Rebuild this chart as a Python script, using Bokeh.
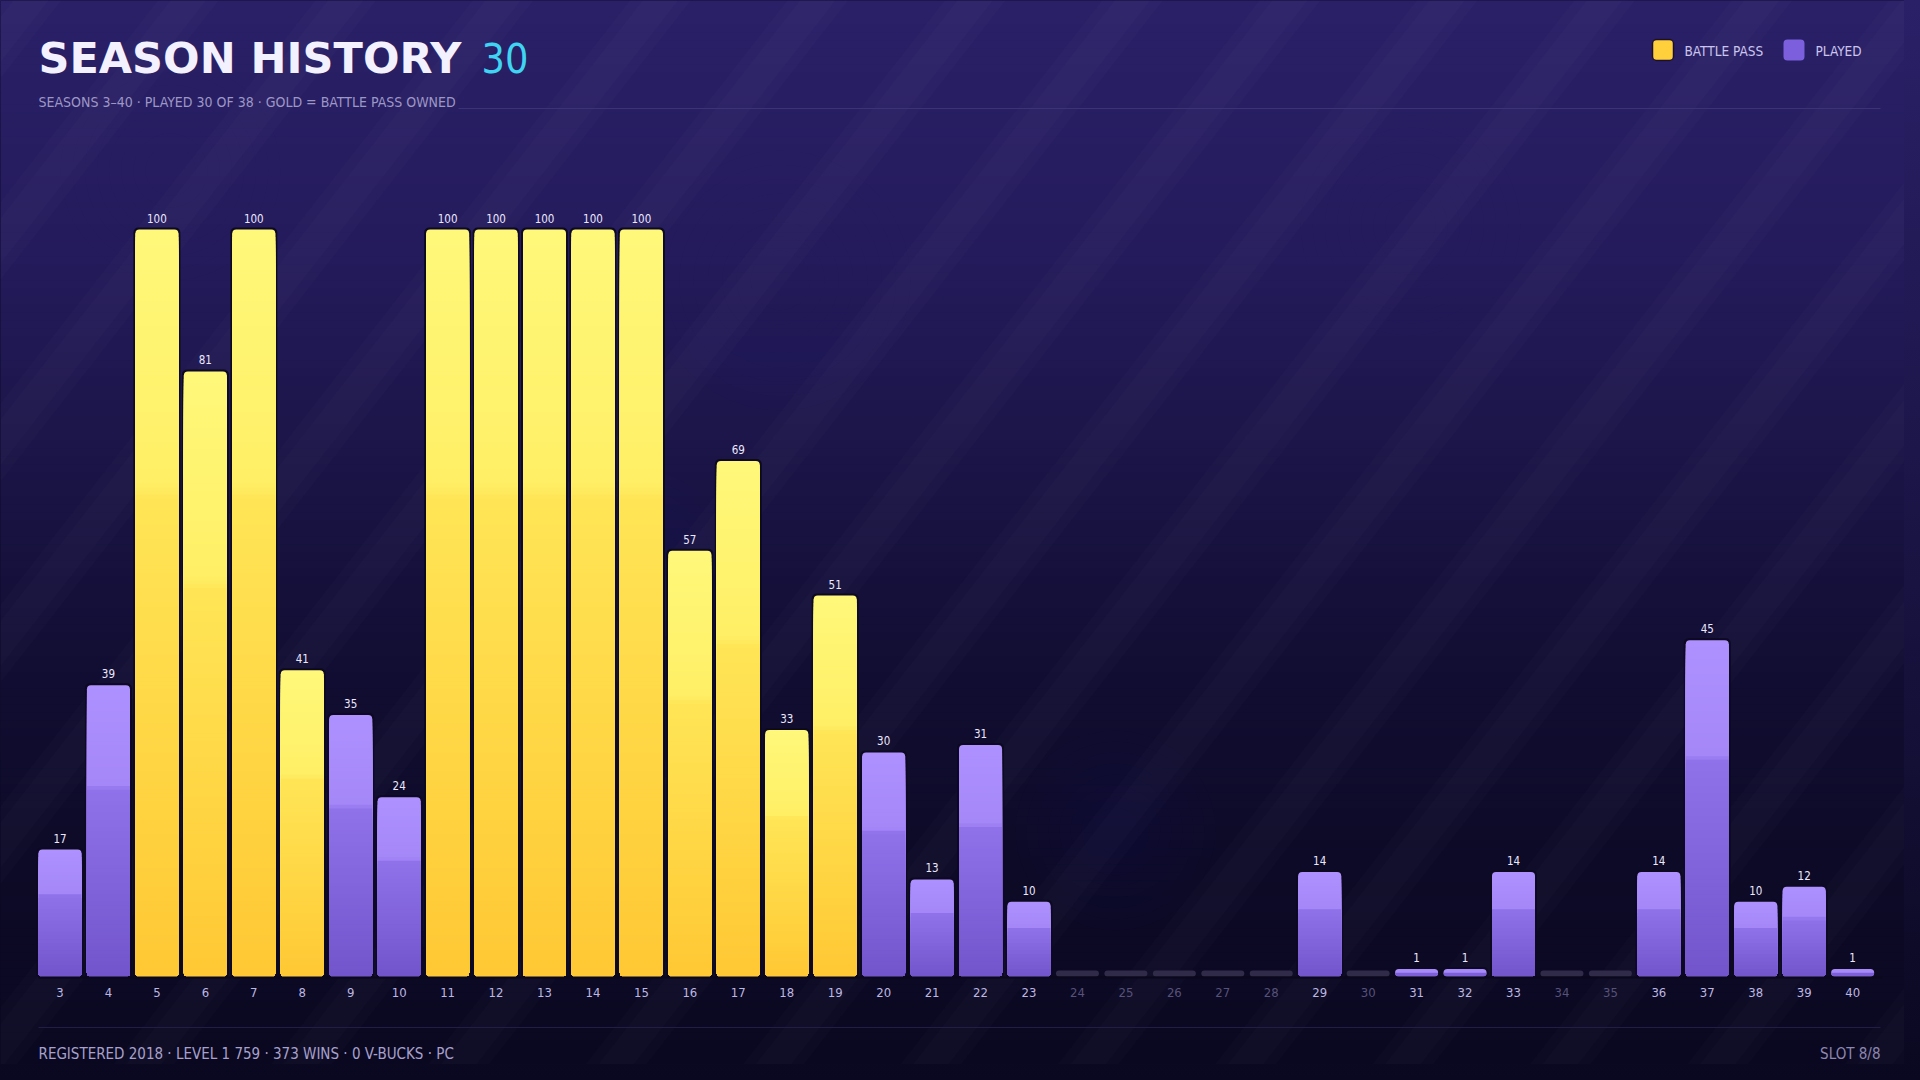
import math
from bokeh.plotting import figure
from bokeh.models import Range1d, ColumnDataSource, Label
from bokeh.core.properties import value
from bokeh.embed import file_html
from bokeh.resources import INLINE

# ---------------- data ----------------
seasons = list(range(3, 41))
levels = [17, 39, 100, 81, 100, 41, 35, 24, 100, 100, 100, 100, 100, 57, 69, 33,
          51, 30, 13, 31, 10, 0, 0, 0, 0, 0, 14, 0, 1, 1, 14, 0, 0, 14, 45, 10, 12, 1]
battle_pass_seasons = [5, 6, 7, 8, 11, 12, 13, 14, 15, 16, 17, 18, 19]

title_text = "SEASON HISTORY"
title_count = "30"
subtitle_text = "SEASONS 3\u201340  \u00b7  PLAYED 30 OF 38  \u00b7  GOLD = BATTLE PASS OWNED"
legend_labels = ["BATTLE PASS", "PLAYED"]
footer_left = "REGISTERED 2018  \u00b7  LEVEL 1 759  \u00b7  373 WINS  \u00b7  0 V-BUCKS  \u00b7  PC"
footer_right = "SLOT 8/8"

# ---------------- layout helpers (screen px -> data) ----------------
W, H = 1904, 1064
PXX = 48.45   # px per season
PXY = 7.47    # px per level unit


def X(sx):
    return 3 + (sx - 59.5) / PXX


def Y(sy):
    return (976 - sy) / PXY


COND = "Liberation Sans Narrow, DejaVu Sans Condensed"
HEAVY = "DejaVu Sans"


def hex2rgb(h):
    h = h.lstrip("#")
    return tuple(int(h[i:i + 2], 16) for i in (0, 2, 4))


def rgb2hex(c):
    return "#%02x%02x%02x" % tuple(int(round(v)) for v in c)


def interp(stops, t):
    t = max(0.0, min(1.0, t))
    for (t0, c0), (t1, c1) in zip(stops, stops[1:]):
        if t0 <= t <= t1:
            f = 0 if t1 == t0 else (t - t0) / (t1 - t0)
            a, b = hex2rgb(c0), hex2rgb(c1)
            return rgb2hex([a[i] + (b[i] - a[i]) * f for i in range(3)])
    return stops[-1][1]


p = figure(width=W, height=H, x_range=Range1d(X(0), X(W)), y_range=Range1d(Y(H), Y(0)),
           output_backend="svg", toolbar_location=None, x_axis_type=None, y_axis_type=None,
           min_border=0)
p.outline_line_color = None
p.background_fill_color = "#0a0820"
p.border_fill_color = "#0a0820"

# ---------------- background gradient ----------------
bg_stops = [(0.0, "#2a2068"), (0.23, "#241b5c"), (0.42, "#1b1548"), (0.6, "#120e34"),
            (0.8, "#0d0a27"), (1.0, "#0a0820")]
bl, br, bb, bt, bc = [], [], [], [], []
step = 8
for sy in range(0, 1080, step):
    bl.append(X(0)); br.append(X(1920))
    bt.append(Y(sy)); bb.append(Y(sy + step + 1))
    bc.append(interp(bg_stops, (sy + step / 2) / 1080))
p.quad(left=bl, right=br, bottom=bb, top=bt, fill_color=bc, line_color=None)

# soft glows
glows = [(780, 280, 260), (1410, 225, 220), (1115, 830, 200), (170, 170, 220), (640, 560, 180)]
for gx, gy, gd in glows:
    for k in range(8):
        p.scatter(x=[X(gx)], y=[Y(gy)], size=gd * (1 - k * 0.11), marker="circle",
                  fill_color="#6a58c8", fill_alpha=0.012, line_color=None)

# diagonal stripes (soft: wide faint band + narrower core)
theta = math.radians(52)
sn, cs = math.sin(theta), math.cos(theta)
maxc = 1920 * sn + 1080 * cs
period = 124
for bw_px, inset, alpha in ((48, 0, 0.014), (28, 10, 0.014)):
    sxs, sys_ = [], []
    c0 = -period
    while c0 < maxc + period:
        a0 = c0 + inset
        pts = []
        for cc, yy in ((a0, -50), (a0 + bw_px, -50), (a0 + bw_px, 1130), (a0, 1130)):
            xx = (cc - yy * cs) / sn
            pts.append((X(xx), Y(yy)))
        sxs.append([q[0] for q in pts]); sys_.append([q[1] for q in pts])
        c0 += period
    p.patches(sxs, sys_, fill_color="white", fill_alpha=alpha, line_color=None)

# ---------------- header ----------------
p.add_layout(Label(x=X(38), y=Y(57), text=title_text, text_font=HEAVY, text_font_style="bold",
                   text_font_size="43px", text_color="#f4f1ff", text_baseline="middle"))
p.add_layout(Label(x=X(481), y=Y(57), text=title_count, text_font=COND,
                   text_font_size="41px", text_color="#3fd5f2", text_baseline="middle"))
p.add_layout(Label(x=X(38), y=Y(101), text=subtitle_text, text_font=COND,
                   text_font_size="14px", text_color="#9d97c6", text_baseline="middle"))
p.segment(x0=[X(458)], y0=[Y(108)], x1=[X(1880)], y1=[Y(108)], line_color="#3b3374", line_width=1)

# legend
leg_colors = ["#ffcf3c", "#7b5fdc"]
leg_lines = ["#1c1030", None]
leg_x = [1652, 1783]
for lx, col, lc, lab in zip(leg_x, leg_colors, leg_lines, legend_labels):
    p.quad(left=[X(lx)], right=[X(lx + 21)], bottom=[Y(60)], top=[Y(39)], fill_color=col,
           line_color=lc, line_width=1.5, border_radius=4)
    p.add_layout(Label(x=X(lx + 32), y=Y(50), text=lab, text_font=COND, text_font_size="13.5px",
                       text_color="#cbc5ee", text_baseline="middle"))

# ---------------- bars ----------------
bar_w = 43 / PXX
gold_stops = [(0.0, "#fff87a"), (0.34, "#ffef66"), (0.36, "#ffe556"), (1.0, "#ffc834")]
purple_stops = [(0.0, "#ae91ff"), (0.34, "#a587f8"), (0.36, "#8f72ea"), (1.0, "#7254cb")]

shadow = dict(left=[], right=[], bottom=[], top=[])
full = dict(left=[], right=[], bottom=[], top=[], color=[])
layers = dict(left=[], right=[], bottom=[], top=[], color=[])
zero = dict(left=[], right=[], bottom=[], top=[])

for s, v in zip(seasons, levels):
    l, r = s - bar_w / 2, s + bar_w / 2
    if v <= 0:
        zero["left"].append(l); zero["right"].append(r)
        zero["bottom"].append(0); zero["top"].append(6 / PXY)
        continue
    stops = gold_stops if s in battle_pass_seasons else purple_stops
    shadow["left"].append(l - 2 / PXX); shadow["right"].append(r + 2 / PXX)
    shadow["bottom"].append(-2 / PXY); shadow["top"].append(v + 2 / PXY)
    n = max(1, int(math.ceil(v / 0.5)))
    h = v / n
    # full bar in top colour, then nested layers from the bottom, each shorter
    full["left"].append(l); full["right"].append(r)
    full["bottom"].append(0); full["top"].append(v)
    full["color"].append(interp(stops, 0.5 / n if n > 1 else 0.5))
    for i in range(n - 1, 0, -1):
        layers["left"].append(l); layers["right"].append(r)
        layers["bottom"].append(0); layers["top"].append(i * h)
        layers["color"].append(interp(stops, 1 - (i - 0.5) / n))

p.quad(source=ColumnDataSource(shadow), left="left", right="right", bottom="bottom", top="top",
       fill_color="#0c0920", line_color=None, border_radius=5)
p.quad(source=ColumnDataSource(zero), left="left", right="right", bottom="bottom", top="top",
       fill_color="#2f2b48", line_color=None, border_radius=3)
p.quad(source=ColumnDataSource(full), left="left", right="right", bottom="bottom", top="top",
       fill_color="color", line_color=None, border_radius=4)
p.quad(source=ColumnDataSource(layers), left="left", right="right", bottom="bottom", top="top",
       fill_color="color", line_color=None, border_radius=(0, 0, 4, 4))

# baseline
p.segment(x0=[X(38)], y0=[Y(977)], x1=[X(1882)], y1=[Y(977)], line_color="#0b081d", line_width=2)

# value labels
lab_x = [s for s, v in zip(seasons, levels) if v > 0]
lab_y = [v + 11.5 / PXY for v in levels if v > 0]
lab_t = [str(v) for v in levels if v > 0]
p.text(x=lab_x, y=lab_y, text=lab_t, text_font=value(COND), text_font_size="11.5px",
       text_color="#ece8ff", text_align="center", text_baseline="middle")

# season tick labels
tick_col = ["#bdb7e2" if v > 0 else "#57527a" for v in levels]
p.text(x=seasons, y=[Y(992)] * len(seasons), text=[str(s) for s in seasons],
       text_font=value(COND), text_font_size="13px", text_color=tick_col,
       text_align="center", text_baseline="middle")

# ---------------- footer ----------------
p.segment(x0=[X(38)], y0=[Y(1027)], x1=[X(1880)], y1=[Y(1027)], line_color="#221d44", line_width=1)
p.add_layout(Label(x=X(38), y=Y(1053), text=footer_left, text_font=COND, text_font_size="15px",
                   text_color="#a7a1cc", text_baseline="middle"))
p.add_layout(Label(x=X(1880), y=Y(1053), text=footer_right, text_font=COND, text_font_size="15px",
                   text_color="#8d87b0", text_baseline="middle", text_align="right"))

html = file_html(p, INLINE)
html = html.replace("</head>", "<style>body{background:linear-gradient(#2a2068,#0a0820);}</style></head>", 1)
open("out.html", "w").write(html)
